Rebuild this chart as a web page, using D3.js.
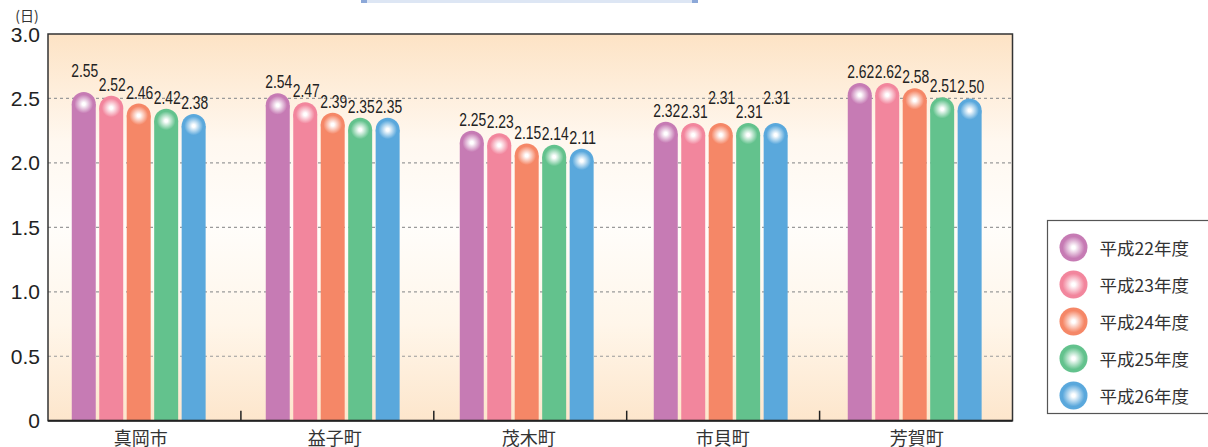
<!DOCTYPE html>
<html>
<head>
<meta charset="utf-8">
<script src="https://cdn.jsdelivr.net/npm/d3@7"></script>
<style>
  html, body { margin: 0; padding: 0; background: #fff; }
  svg { display: block; }
</style>
</head>
<body>
<svg id="chart" width="1208" height="447"></svg>
<script>
// ---- data ----
const categories = ["真岡市", "益子町", "茂木町", "市貝町", "芳賀町"];
const seriesNames = ["平成22年度", "平成23年度", "平成24年度", "平成25年度", "平成26年度"];
const h22 = [2.55, 2.54, 2.25, 2.32, 2.62];
const h23 = [2.52, 2.47, 2.23, 2.31, 2.62];
const h24 = [2.46, 2.39, 2.15, 2.31, 2.58];
const h25 = [2.42, 2.35, 2.14, 2.31, 2.51];
const h26 = [2.38, 2.35, 2.11, 2.31, 2.50];
const yTicks = [0, 0.5, 1.0, 1.5, 2.0, 2.5, 3.0];
const yTickLabels = ["0", "0.5", "1.0", "1.5", "2.0", "2.5", "3.0"];
const unitLabel = "(日)";

const seriesValues = [h22, h23, h24, h25, h26];
const colors = ["#c67bb4", "#f2869d", "#f58767", "#63c28d", "#5aa8dc"];

// ---- layout ----
const svg = d3.select("#chart");
const plot = { left: 48, right: 1012.5, top: 34, bottom: 420.7 };

const y = d3.scaleLinear().domain([0, 3]).range([plot.bottom, plot.top]);
const xAxisScale = d3.scaleBand().domain(categories).range([plot.left, plot.right]);
const x0 = d3.scaleBand().domain(categories).range([41.7, 1011.7]).paddingInner(0.31).paddingOuter(0.155);
const x1 = d3.scaleBand().domain(seriesNames).range([0, x0.bandwidth()]).paddingInner(3.5 / 27.5).paddingOuter(0);

const defs = svg.append("defs");
const bg = defs.append("linearGradient").attr("id", "bg").attr("x1", 0).attr("y1", 0).attr("x2", 0).attr("y2", 1);
[[0, "#fde3c5"], [0.28, "#fff8f0"], [0.5, "#fffdfa"], [0.75, "#fff6ea"], [1, "#fde6cc"]].forEach(([o, c]) =>
  bg.append("stop").attr("offset", o).attr("stop-color", c));

colors.forEach((c, i) => {
  const g = defs.append("radialGradient").attr("id", "sph" + i).attr("cx", "50%").attr("cy", "50%").attr("r", "50%");
  g.append("stop").attr("offset", 0).attr("stop-color", "#ffffff");
  g.append("stop").attr("offset", 0.12).attr("stop-color", "#ffffff").attr("stop-opacity", 1);
  g.append("stop").attr("offset", 0.78).attr("stop-color", c);
  g.append("stop").attr("offset", 1).attr("stop-color", c);
});

// title box remnant at the top
svg.append("rect").attr("x", 361).attr("y", -6).attr("width", 337).attr("height", 9).attr("fill", "#dde6f4");
svg.append("rect").attr("x", 361).attr("y", -6).attr("width", 6).attr("height", 9).attr("fill", "#8ca8d8");
svg.append("rect").attr("x", 692).attr("y", -6).attr("width", 6).attr("height", 9).attr("fill", "#8ca8d8");

// plot background
svg.append("rect")
  .attr("x", plot.left).attr("y", plot.top)
  .attr("width", plot.right - plot.left).attr("height", plot.bottom - plot.top)
  .attr("fill", "url(#bg)");

// gridlines
svg.append("g").selectAll("line")
  .data(yTicks.filter(t => t > 0 && t < 3))
  .join("line")
  .attr("x1", plot.left).attr("x2", plot.right)
  .attr("y1", d => y(d)).attr("y2", d => y(d))
  .attr("stroke", "#9a9a9a").attr("stroke-width", 1.2).attr("stroke-dasharray", "3,3");

// bars
const groups = svg.append("g").selectAll("g")
  .data(categories)
  .join("g")
  .attr("transform", d => `translate(${x0(d)},0)`);

const labelLift = { "市貝町": [0, 0, 14, 0, 14], "真岡市": [10, 0, 0, 0, 0] };

groups.each(function (cat, ci) {
  const g = d3.select(this);
  const w = x1.bandwidth();
  const r = w / 2;
  seriesNames.forEach((s, si) => {
    const v = seriesValues[si][ci];
    const bx = x1(s);
    const cy = y(v) + r;
    g.append("rect").attr("x", bx).attr("y", cy).attr("width", w).attr("height", plot.bottom - cy)
      .attr("fill", colors[si]);
    g.append("circle").attr("cx", bx + r).attr("cy", cy).attr("r", r).attr("fill", `url(#sph${si})`);
    const lift = (labelLift[cat] || [0, 0, 0, 0, 0])[si];
    g.append("text")
      .attr("x", bx + r + 1).attr("y", y(v) - 5 - lift)
      .attr("text-anchor", "middle")
      .attr("font-family", "Liberation Sans, Arial, sans-serif")
      .attr("font-size", 18)
      .attr("fill", "#222")
      .attr("textLength", 27).attr("lengthAdjust", "spacingAndGlyphs")
      .text(v.toFixed(2));
  });
});

// frame
svg.append("rect")
  .attr("x", plot.left).attr("y", plot.top)
  .attr("width", plot.right - plot.left).attr("height", plot.bottom - plot.top)
  .attr("fill", "none").attr("stroke", "#333").attr("stroke-width", 1.5);
svg.append("line").attr("x1", plot.left).attr("x2", plot.right).attr("y1", plot.bottom).attr("y2", plot.bottom)
  .attr("stroke", "#222").attr("stroke-width", 2);

// inner ticks between categories
svg.append("g").selectAll("line")
  .data(categories.slice(1))
  .join("line")
  .attr("x1", d => xAxisScale(d)).attr("x2", d => xAxisScale(d))
  .attr("y1", plot.bottom - 10).attr("y2", plot.bottom)
  .attr("stroke", "#222").attr("stroke-width", 1.5);

// category labels
svg.append("g").selectAll("text")
  .data(categories)
  .join("text")
  .attr("x", d => x0(d) + x0.bandwidth() / 2 + 2)
  .attr("y", 436.5)
  .attr("dominant-baseline", "central")
  .attr("text-anchor", "middle")
  .attr("font-family", "Noto Sans CJK JP, sans-serif")
  .attr("font-size", 18)
  .attr("fill", "#333")
  .text(d => d);

// y tick labels
svg.append("g").selectAll("text")
  .data(yTicks)
  .join("text")
  .attr("x", 40)
  .attr("y", d => y(d))
  .attr("dominant-baseline", "central")
  .attr("text-anchor", "end")
  .attr("font-family", "Liberation Sans, Arial, sans-serif")
  .attr("font-size", 21)
  .attr("fill", "#222")
  .text((d, i) => yTickLabels[i]);

// unit label
svg.append("text")
  .attr("x", 27).attr("y", 15)
  .attr("dominant-baseline", "central")
  .attr("text-anchor", "middle")
  .attr("font-family", "Noto Sans CJK JP, sans-serif")
  .attr("font-size", 14)
  .attr("fill", "#333")
  .text(unitLabel);

// legend
svg.append("rect").attr("x", 1047.5).attr("y", 220.5).attr("width", 170).attr("height", 193)
  .attr("fill", "#fff").attr("stroke", "#555").attr("stroke-width", 1.2);
const leg = svg.append("g").selectAll("g")
  .data(seriesNames)
  .join("g")
  .attr("transform", (d, i) => `translate(1073.5,${247.5 + i * 37})`);
leg.append("circle").attr("r", 14).attr("fill", (d, i) => `url(#sph${i})`);
leg.append("text")
  .attr("x", 26).attr("y", 0)
  .attr("dominant-baseline", "central")
  .attr("font-family", "Noto Sans CJK JP, sans-serif")
  .attr("font-size", 17.5)
  .attr("fill", "#333")
  .text(d => d);
</script>
</body>
</html>
